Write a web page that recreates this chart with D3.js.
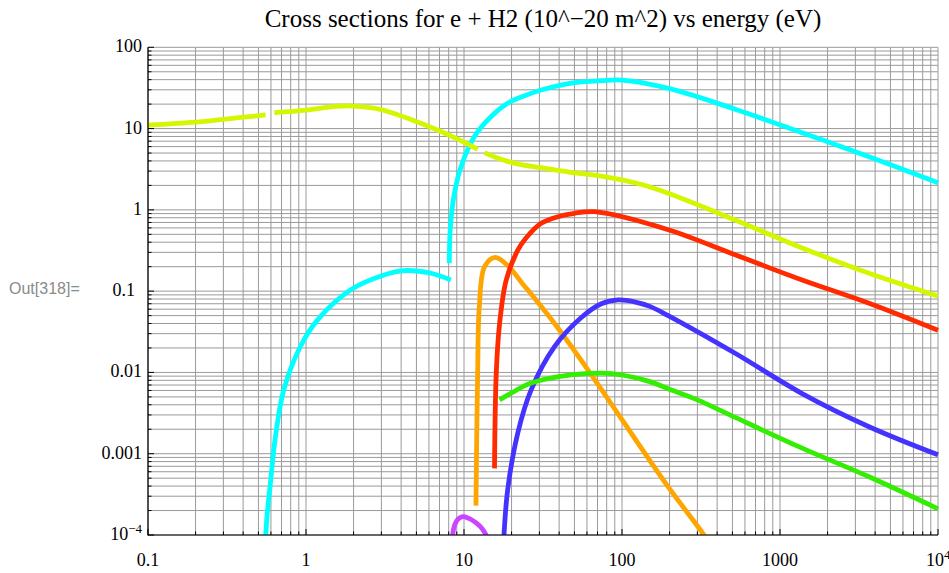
<!DOCTYPE html>
<html>
<head>
<meta charset="utf-8">
<script src="https://cdn.jsdelivr.net/npm/d3@7"></script>
<style>
  html, body { margin: 0; padding: 0; background: #fff; }
  svg { display: block; }
</style>
</head>
<body>
<svg id="chart" width="949" height="573"></svg>
<script>
// ---- Data (energy in eV, cross section in 10^-20 m^2) ----
const xTickValues = [0.1, 1, 10, 100, 1000, 10000];
const xTickLabels = ["0.1", "1", "10", "100", "1000", "10|4"];
const yTickValues = [1e-4, 1e-3, 1e-2, 0.1, 1, 10, 100];
const yTickLabels = ["10|−4", "0.001", "0.01", "0.1", "1", "10", "100"];

// yellow-green (three pieces)
const ygA_E = [0.1, 0.2, 0.3, 0.4, 0.555];
const ygA_S = [11.0, 12.0, 13.0, 13.8, 14.7];
const ygB_E = [0.63, 1.0, 1.4, 1.86, 2.69, 3.4, 4.4, 7.15, 10, 12.2];
const ygB_S = [15.7, 16.9, 18.4, 19.0, 17.8, 15.9, 13.4, 9.2, 6.8, 5.56];
const ygC_E = [13.5, 15.5, 18.9, 23, 30.8, 50, 74, 133, 196, 520, 1380, 3660, 10000];
const ygC_S = [5.06, 4.5, 3.95, 3.6, 3.3, 2.85, 2.6, 2.05, 1.6, 0.75, 0.34, 0.166, 0.087];

// cyan (two pieces)
const cyA_E = [0.553, 0.565, 0.595, 0.64, 0.723, 0.92, 1.18, 1.92, 3.12, 4.18, 6.17, 8.26];
const cyA_S = [8e-5, 1.6e-4, 4.3e-4, 0.0016, 0.0061, 0.0207, 0.044, 0.104, 0.158, 0.179, 0.166, 0.137];
const cyB_E = [8.07, 8.2, 8.7, 9.57, 11.6, 14.8, 18.9, 24, 30.8, 50.3, 74, 100, 200, 520, 1380, 3660, 10000];
const cyB_S = [0.22, 0.62, 1.6, 3.4, 7.9, 14, 20.5, 25.2, 29.8, 36.7, 38.9, 39.5, 31, 17.3, 8.9, 4.5, 2.16];

// orange
const orE = [11.9, 12.2, 12.5, 13.5, 15.7, 18.9, 23, 37.4, 61, 99, 196, 330, 345];
const orS = [2.3e-4, 0.0098, 0.064, 0.2, 0.26, 0.207, 0.13, 0.040, 0.0107, 0.0027, 3.9e-4, 1e-4, 8.5e-5];

// red
const rdE = [15.6, 16, 16.8, 18.5, 21.9, 24.2, 30.8, 39.3, 50, 67, 196, 520, 1380, 3660, 10000];
const rdS = [6.6e-4, 0.0098, 0.04, 0.137, 0.32, 0.43, 0.683, 0.824, 0.908, 0.95, 0.57, 0.28, 0.137, 0.071, 0.033];

// blue
const blE = [17.8, 18.9, 21.9, 26.6, 37.4, 54.8, 74, 94.6, 120, 150, 196, 520, 1380, 3660, 10000];
const blS = [8e-5, 3.6e-4, 0.0018, 0.0061, 0.0208, 0.0468, 0.070, 0.078, 0.074, 0.065, 0.050, 0.0172, 0.0055, 0.00215, 9.7e-4];

// green
const grE = [16.8, 20, 26.6, 47.7, 74, 100, 150, 196, 300, 520, 1380, 3660, 10000];
const grS = [0.0046, 0.0056, 0.0074, 0.0093, 0.0098, 0.0093, 0.0077, 0.0063, 0.0046, 0.0028, 0.00117, 5.2e-4, 2.1e-4];

// magenta
const mgE = [8.45, 8.6, 9.0, 9.5, 10, 10.5, 11.1, 12, 13, 14];
const mgS = [9e-5, 1.2e-4, 1.5e-4, 1.65e-4, 1.68e-4, 1.63e-4, 1.55e-4, 1.4e-4, 1.2e-4, 9.5e-5];

const seriesList = [
  { E: cyA_E, S: cyA_S, color: "#00ffff" },
  { E: cyB_E, S: cyB_S, color: "#00ffff" },
  { E: ygA_E, S: ygA_S, color: "#d4f700" },
  { E: ygB_E, S: ygB_S, color: "#d4f700" },
  { E: ygC_E, S: ygC_S, color: "#d4f700" },
  { E: orE, S: orS, color: "#ffa500" },
  { E: rdE, S: rdS, color: "#ff2a00" },
  { E: blE, S: blS, color: "#4433ff" },
  { E: grE, S: grS, color: "#33ee00" },
  { E: mgE, S: mgS, color: "#cc44ff" }
];

// ---- Layout ----
const L = 148, R = 938, T = 47.3, B = 535;
const svg = d3.select("#chart");
const x = d3.scaleLog().domain([0.1, 1e4]).range([L, R]);
const y = d3.scaleLog().domain([1e-4, 100]).range([B, T]);

// Grid lines (1..9 per decade)
const xGrid = [], yGrid = [];
for (let d = -1; d < 4; d++) for (let m = 1; m <= 9; m++) xGrid.push(m * Math.pow(10, d));
xGrid.push(1e4);
for (let d = -4; d < 2; d++) for (let m = 1; m <= 9; m++) yGrid.push(m * Math.pow(10, d));
yGrid.push(100);

const grid = svg.append("g").attr("stroke", "#9a9a9a").attr("stroke-width", 1);
grid.selectAll("line.gx").data(xGrid).join("line")
  .attr("x1", d => x(d)).attr("x2", d => x(d)).attr("y1", T).attr("y2", B);
grid.selectAll("line.gy").data(yGrid).join("line")
  .attr("y1", d => y(d)).attr("y2", d => y(d)).attr("x1", L).attr("x2", R);

// Curves
svg.append("clipPath").attr("id", "clip").append("rect")
  .attr("x", L).attr("y", T - 3).attr("width", R - L + 2).attr("height", B - T + 3);

const line = d3.line()
  .x(d => x(d[0])).y(d => y(d[1]))
  .curve(d3.curveCatmullRom.alpha(0.5));

const curves = svg.append("g").attr("clip-path", "url(#clip)");
seriesList.forEach(s => {
  const pts = s.E.map((e, i) => [e, s.S[i]]);
  curves.append("path")
    .attr("d", line(pts))
    .attr("fill", "none")
    .attr("stroke", s.color)
    .attr("stroke-width", 4.8)
    .attr("stroke-linecap", "butt")
    .attr("stroke-linejoin", "round");
});

// Axes
const axes = svg.append("g").attr("stroke", "#000");
axes.append("line").attr("x1", L).attr("x2", L).attr("y1", T).attr("y2", B + 0.5).attr("stroke-width", 1.2);
axes.append("line").attr("x1", L).attr("x2", R).attr("y1", B).attr("y2", B).attr("stroke-width", 1.2);

// ticks (inside)
axes.selectAll("line.tx").data(xGrid).join("line")
  .attr("x1", d => x(d)).attr("x2", d => x(d))
  .attr("y1", B).attr("y2", d => xTickValues.includes(d) ? B - 6 : B - 3.5)
  .attr("stroke-width", 1);
axes.selectAll("line.ty").data(yGrid).join("line")
  .attr("y1", d => y(d)).attr("y2", d => y(d))
  .attr("x1", L).attr("x2", d => yTickValues.includes(d) ? L + 6 : L + 3.5)
  .attr("stroke-width", 1);

const serif = "'Liberation Serif', 'Times New Roman', serif";

function addLabel(g, txt, px, py, anchor) {
  const parts = txt.split("|");
  const t = g.append("text")
    .attr("x", px).attr("y", py)
    .attr("text-anchor", anchor)
    .attr("font-family", serif).attr("font-size", 18).attr("fill", "#000");
  t.append("tspan").text(parts[0]);
  if (parts.length > 1) {
    t.append("tspan").attr("dy", -7).attr("font-size", 13).text(parts[1]);
  }
  return t;
}

const labels = svg.append("g");
xTickValues.forEach((v, i) => {
  if (i === xTickValues.length - 1) {
    addLabel(labels, xTickLabels[i], x(v) - 12, 566, "start");
  } else {
    addLabel(labels, xTickLabels[i], x(v), 566, "middle");
  }
});
yTickValues.forEach((v, i) => {
  const off = yTickLabels[i] === "0.1" ? 13 : 6;
  addLabel(labels, yTickLabels[i], L - off, y(v) + 5, "end");
});

// Title
svg.append("text")
  .attr("x", (L + R) / 2).attr("y", 27)
  .attr("text-anchor", "middle")
  .attr("font-family", serif).attr("font-size", 25)
  .text("Cross sections for e + H2 (10^\u221220 m^2) vs energy (eV)");

// Mathematica output label
svg.append("text")
  .attr("x", 9).attr("y", 294)
  .attr("font-family", "'Liberation Sans', Arial, sans-serif").attr("font-size", 16)
  .attr("fill", "#8a8a8a")
  .text("Out[318]=");
</script>
</body>
</html>
